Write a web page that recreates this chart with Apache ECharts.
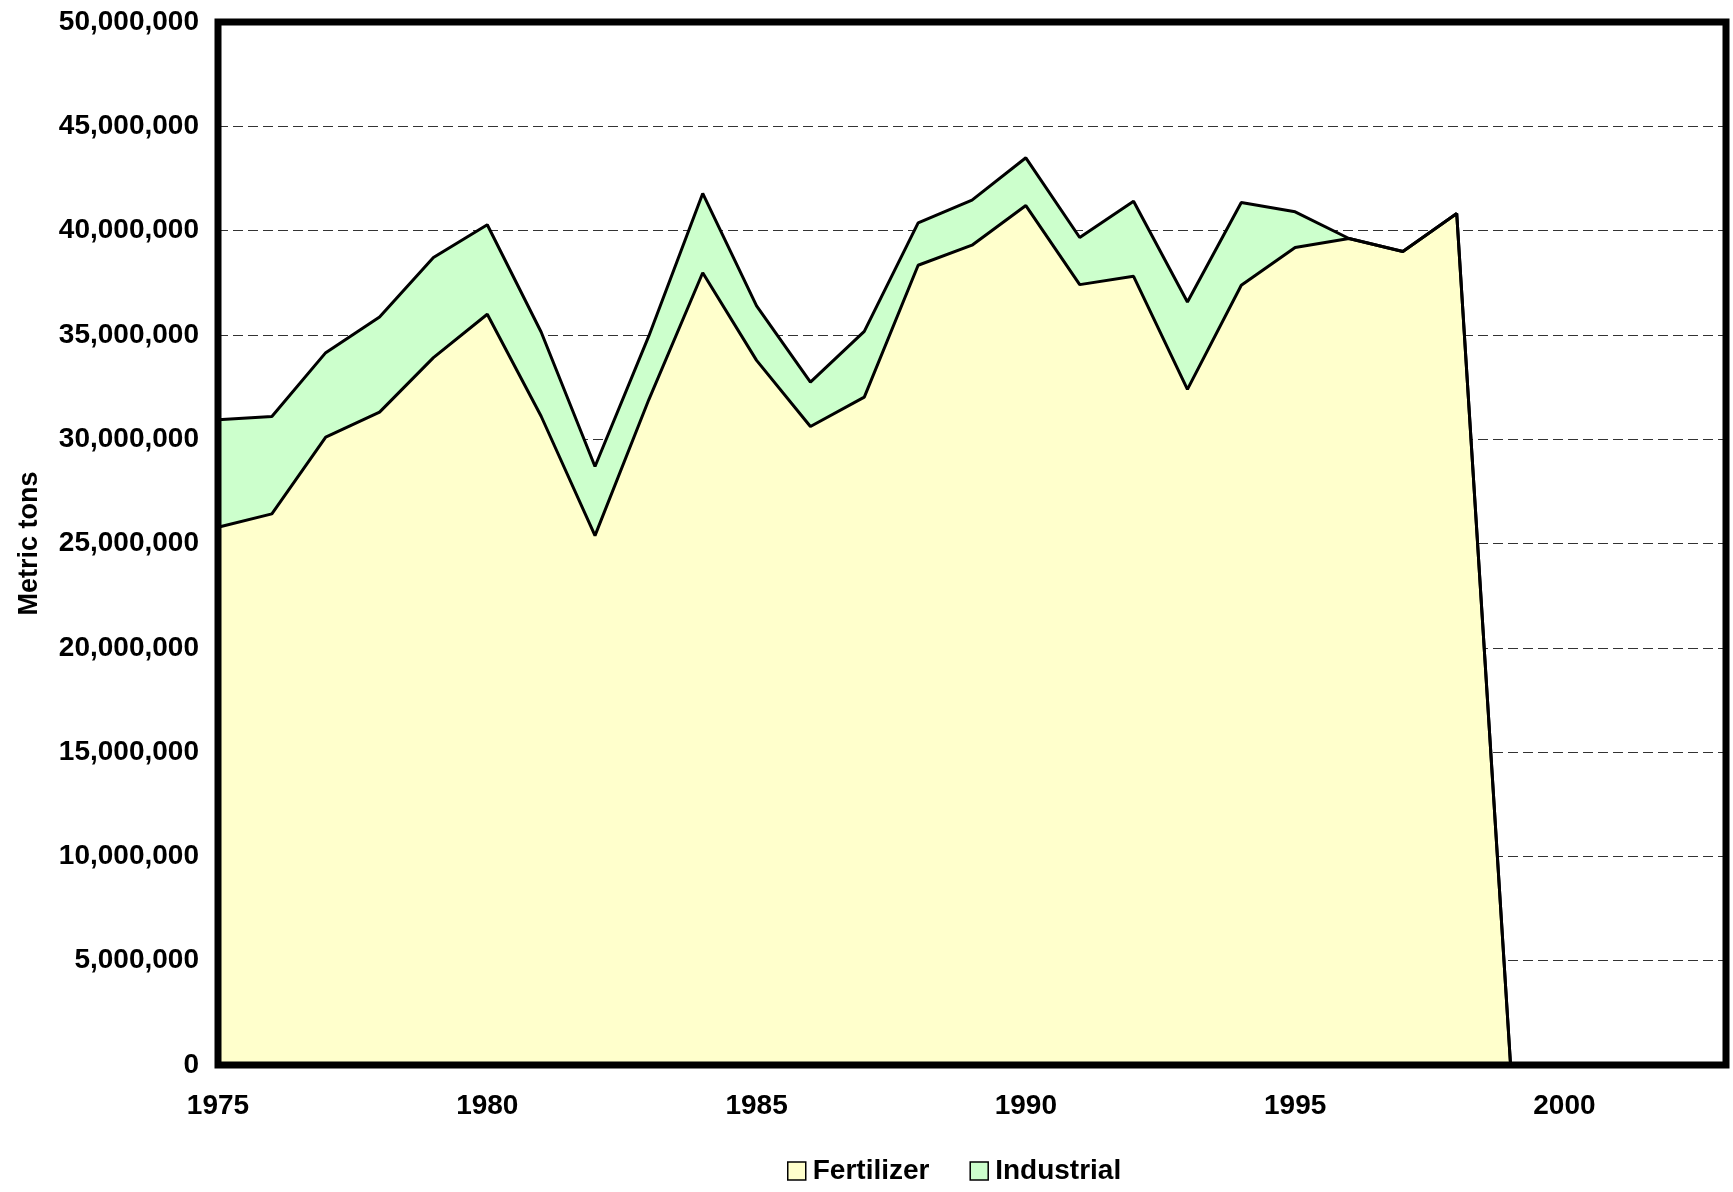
<!DOCTYPE html>
<html>
<head>
<meta charset="utf-8">
<script src="https://cdn.jsdelivr.net/npm/echarts/dist/echarts.min.js"></script>
<style>
  html, body { margin: 0; padding: 0; background: #fff; }
  #main { width: 1733px; height: 1192px; }
</style>
</head>
<body>
<div id="main"></div>
<script>
// years on the x axis (axis runs out to 2003, data stops at 1999)
const years = ['1975', '1976', '1977', '1978', '1979', '1980', '1981', '1982', '1983', '1984',
  '1985', '1986', '1987', '1988', '1989', '1990', '1991', '1992', '1993', '1994',
  '1995', '1996', '1997', '1998', '1999', '2000', '2001', '2002', '2003'];

// metric tons
const fertilizer = [25780000, 26420000, 30100000, 31300000, 33910000, 35990000, 31100000, 25380000, 31900000, 37980000,
  33780000, 30610000, 32020000, 38340000, 39300000, 41200000, 37410000, 37810000, 32390000, 37380000,
  39190000, 39620000, 39000000, 40820000, 0, null, null, null, null];

const industrial = [5150000, 4670000, 4050000, 4560000, 4800000, 4290000, 4040000, 3310000, 3050000, 3800000,
  2610000, 2130000, 3150000, 2030000, 2160000, 2290000, 2260000, 3600000, 4190000, 3970000,
  1710000, 0, 0, 0, 0, null, null, null, null];

const seriesNames = ['Fertilizer', 'Industrial'];
const seriesColors = ['#FFFFCC', '#CCFFCC'];

const font = '"Liberation Sans", Arial, sans-serif';

const chartDom = document.getElementById('main');
const myChart = echarts.init(chartDom);
let option;

const makeSeries = (name, data, color) => ({
  name: name,
  type: 'line',
  stack: 'total',
  data: data,
  symbol: 'none',
  z: 2,
  itemStyle: { color: color, borderColor: '#000', borderWidth: 1.5 },
  lineStyle: { color: '#000', width: 3 },
  areaStyle: { color: color, opacity: 1 }
});

option = {
  animation: false,
  backgroundColor: '#fff',
  grid: {
    left: 218,
    top: 22,
    right: 7,
    bottom: 127,
    show: true,
    borderColor: '#000',
    borderWidth: 7,
    backgroundColor: 'transparent',
    z: 10
  },
  legend: {
    data: seriesNames,
    left: 787,
    top: 1157,
    padding: 0,
    icon: 'rect',
    itemWidth: 18,
    itemHeight: 18,
    itemGap: 40,
    itemStyle: { borderColor: '#000', borderWidth: 1.5 },
    textStyle: { fontFamily: font, fontWeight: 'bold', fontSize: 28, color: '#000', padding: [0, 0, 0, 2] }
  },
  xAxis: {
    type: 'category',
    data: years,
    boundaryGap: false,
    axisLine: { show: false },
    axisTick: { show: false },
    splitLine: { show: false },
    axisLabel: {
      interval: 4,
      margin: 27,
      fontFamily: font,
      fontWeight: 'bold',
      fontSize: 28,
      color: '#000'
    }
  },
  yAxis: {
    type: 'value',
    min: 0,
    max: 50000000,
    interval: 5000000,
    name: 'Metric tons',
    nameLocation: 'middle',
    nameGap: 175,
    nameTextStyle: { fontFamily: font, fontWeight: 'bold', fontSize: 27, color: '#000' },
    axisLine: { show: false },
    axisTick: { show: false },
    splitLine: { show: true, lineStyle: { color: '#333', width: 1, type: [10, 5] } },
    axisLabel: {
      margin: 19,
      fontFamily: font,
      fontWeight: 'bold',
      fontSize: 28,
      color: '#000',
      formatter: (v) => v.toLocaleString('en-US')
    }
  },
  series: [
    makeSeries(seriesNames[0], fertilizer, seriesColors[0]),
    makeSeries(seriesNames[1], industrial, seriesColors[1])
  ]
};

option && myChart.setOption(option);
</script>
</body>
</html>
